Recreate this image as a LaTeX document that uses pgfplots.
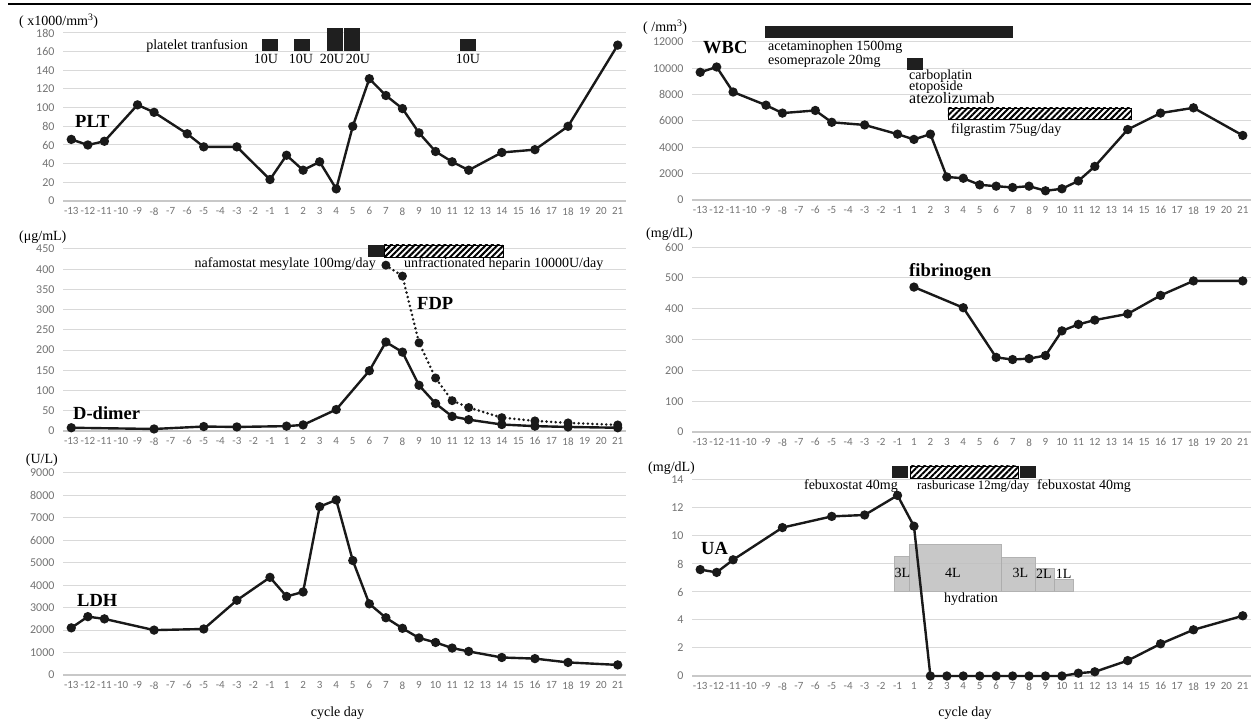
\documentclass[border=0pt]{standalone}
\usepackage{fontspec}
\setmainfont{Liberation Serif}
\newfontfamily\tickfont{Carlito}
\usepackage{pgfplots}
\pgfplotsset{compat=1.18}
\usetikzlibrary{patterns.meta}

\definecolor{gridc}{RGB}{217,217,217}
\definecolor{axc}{RGB}{200,200,200}
\definecolor{tickc}{RGB}{115,115,115}
\definecolor{hyd}{RGB}{190,190,190}
\definecolor{serc}{RGB}{25,25,25}

\newcommand\ann{\fontsize{14}{14}\selectfont}
\newcommand\lbl{\fontsize{18.5}{18.5}\selectfont\bfseries}

\tikzset{
 hatch/.style={draw=black, line width=0.8pt, pattern={Lines[angle=45,distance=4.2pt,line width=2pt]}, pattern color=black},
 blk/.style={fill=black!88},
 hydb/.style={fill=hyd, draw=black!30, line width=0.6pt},
}
\pgfplotsset{
 panel/.style={
   scale only axis,
   xmin=-0.5, xmax=33.5,
   xtick={0,...,33},
   xticklabels={-13,-12,-11,-10,-9,-8,-7,-6,-5,-4,-3,-2,-1,1,2,3,4,5,6,7,8,9,10,11,12,13,14,15,16,17,18,19,20,21},
   ymin=0,
   ymajorgrids,
   major grid style={gridc, line width=1pt},
   axis x line*=bottom,
   axis y line*=left,
   y axis line style={draw=none},
   x axis line style={axc, line width=1.8pt},
   major tick length=0pt,
   xticklabel style={font=\tickfont\fontsize{11}{12}\selectfont, text=tickc, yshift=-3pt},
   yticklabel style={font=\tickfont\fontsize{12}{12}\selectfont, text=tickc, xshift=-5pt},
   /pgf/number format/assume math mode=true,
   /pgf/number format/1000 sep={},
   scaled y ticks=false,
   clip=false,
 },
 ser/.style={color=serc, line width=2.4pt, mark=*, mark size=3.4pt, mark options={solid}},
}

\begin{document}
\begin{tikzpicture}[x=1pt,y=1pt]
\useasboundingbox (0,0) rectangle (1251,725);
\draw[line width=2pt] (8,721) -- (1251,721);

% ---------------- PLT ----------------
\begin{axis}[panel, at={(63pt,524pt)}, anchor=south west, width=563pt, height=168pt,
  ymax=180, ytick={0,20,...,180}]
\addplot[ser] coordinates {(0,66) (1,60) (2,64) (4,103) (5,95) (7,72) (8,58) (10,58) (12,23) (13,49) (14,33) (15,42) (16,13) (17,80) (18,131) (19,113) (20,99) (21,73) (22,53) (23,42) (24,33) (26,52) (28,55) (30,80) (33,167)};
\fill[blk] (axis cs:11.52,160.7) rectangle (axis cs:12.47,173.6);
\fill[blk] (axis cs:13.45,160.7) rectangle (axis cs:14.40,173.6);
\fill[blk] (axis cs:15.44,160.7) rectangle (axis cs:16.41,185.4);
\fill[blk] (axis cs:16.47,160.7) rectangle (axis cs:17.44,185.4);
\fill[blk] (axis cs:23.49,160.7) rectangle (axis cs:24.44,173.6);
\end{axis}

% ---------------- WBC ----------------
\begin{axis}[panel, at={(692pt,525pt)}, anchor=south west, width=559pt, height=158pt,
  ymax=12000, ytick={0,2000,...,12000}]
\addplot[ser] coordinates {(0,9700) (1,10100) (2,8200) (4,7200) (5,6600) (7,6800) (8,5900) (10,5700) (12,5000) (13,4600) (14,5000) (15,1750) (16,1650) (17,1150) (18,1050) (19,950) (20,1050) (21,700) (22,850) (23,1450) (24,2550) (26,5350) (28,6600) (30,7000) (33,4900)};
\fill[blk] (axis cs:3.94,12304) rectangle (axis cs:19.02,13215);
\fill[blk] (axis cs:12.58,9873) rectangle (axis cs:13.55,10785);
\draw[hatch] (axis cs:15.07,6152) rectangle (axis cs:26.2,6987);
\end{axis}

% ---------------- D-dimer / FDP ----------------
\begin{axis}[panel, at={(63pt,294pt)}, anchor=south west, width=563pt, height=182pt,
  ymax=450, ytick={0,50,...,450}]
\addplot[ser] coordinates {(0,8) (5,5) (8,11) (10,10) (13,12) (14,15) (16,53) (18,149) (19,220) (20,195) (21,113) (22,68) (23,36) (24,28) (26,16) (28,12) (30,10) (33,8)};
\addplot[ser, line width=2.8pt, line cap=round, dash pattern=on 0pt off 4.6pt, mark size=3pt] coordinates {(19,410) (20,383) (21,218) (22,131) (23,75) (24,58) (26,33) (28,25) (30,20) (33,15)};
\fill[blk] (axis cs:17.92,430.2) rectangle (axis cs:18.89,459.9);
\draw[hatch] (axis cs:18.89,430.2) rectangle (axis cs:26.07,459.9);
\end{axis}

% ---------------- fibrinogen ----------------
\begin{axis}[panel, at={(692pt,293pt)}, anchor=south west, width=559pt, height=185pt,
  ymax=600, ytick={0,100,...,600}]
\addplot[ser] coordinates {(13,470) (16,403) (18,242) (19,235) (20,238) (21,248) (22,328) (23,349) (24,363) (26,383) (28,443) (30,490) (33,490)};
\end{axis}

% ---------------- LDH ----------------
\begin{axis}[panel, at={(63pt,50pt)}, anchor=south west, width=563pt, height=202pt,
  ymax=9000, ytick={0,1000,...,9000}]
\addplot[ser] coordinates {(0,2100) (1,2600) (2,2500) (5,2000) (8,2050) (10,3330) (12,4350) (13,3500) (14,3700) (15,7500) (16,7800) (17,5100) (18,3170) (19,2550) (20,2080) (21,1650) (22,1450) (23,1200) (24,1050) (26,780) (28,730) (30,560) (33,450)};
\end{axis}

% ---------------- UA ----------------
\begin{axis}[panel, at={(692pt,49pt)}, anchor=south west, width=559pt, height=196pt,
  ymax=14, ytick={0,2,...,14}]
\fill[hydb, fill opacity=0.85] (axis cs:11.79,6.07) rectangle (axis cs:12.70,8.57);
\fill[hydb, fill opacity=0.85] (axis cs:12.70,6.07) rectangle (axis cs:18.29,9.43);
\fill[hydb, fill opacity=0.85] (axis cs:18.29,6.07) rectangle (axis cs:20.36,8.50);
\fill[hydb, fill opacity=0.85] (axis cs:20.36,6.07) rectangle (axis cs:21.52,7.69);
\fill[hydb, fill opacity=0.85] (axis cs:21.52,6.07) rectangle (axis cs:22.67,6.93);
\draw[black!32, line width=0.6pt] (axis cs:12.70,6.07) -- (axis cs:12.70,8.57);
\draw[black!32, line width=0.6pt] (axis cs:18.29,6.07) -- (axis cs:18.29,8.50);
\draw[black!32, line width=0.6pt] (axis cs:20.36,6.07) -- (axis cs:20.36,7.69);
\draw[black!32, line width=0.6pt] (axis cs:21.52,6.07) -- (axis cs:21.52,6.93);
\addplot[ser] coordinates {(0,7.6) (1,7.4) (2,8.3) (5,10.6) (8,11.4) (10,11.5) (12,12.9) (13,10.7) (14,0) (15,0) (16,0) (17,0) (18,0) (19,0) (20,0) (21,0) (22,0) (23,0.2) (24,0.3) (26,1.1) (28,2.3) (30,3.3) (33,4.3)};
\fill[blk] (axis cs:11.66,14.14) rectangle (axis cs:12.64,15.0);
\draw[hatch] (axis cs:12.76,14.14) rectangle (axis cs:19.33,15.0);
\fill[blk] (axis cs:19.45,14.14) rectangle (axis cs:20.42,15.0);
\end{axis}

% ---------------- texts ----------------
% PLT
\node[anchor=base west, inner sep=0] at (19,699.5) {\ann ( x1000/mm\textsuperscript{3})};
\node[anchor=base east, inner sep=0] at (248,675.7) {\ann platelet tranfusion};
\node[anchor=base, inner sep=0] at (266,661) {\ann 10U};
\node[anchor=base, inner sep=0] at (301,661) {\ann 10U};
\node[anchor=base, inner sep=0] at (332,661) {\ann 20U};
\node[anchor=base, inner sep=0] at (358,661) {\ann 20U};
\node[anchor=base, inner sep=0] at (468,661) {\ann 10U};
\node[anchor=base west, inner sep=0] at (75,597.3) {\lbl PLT};
% WBC
\node[anchor=base west, inner sep=0] at (643,693) {\ann ( /mm\textsuperscript{3})};
\node[anchor=base west, inner sep=0] at (703,671) {\lbl WBC};
\node[anchor=base west, inner sep=0] at (768,674.3) {\ann acetaminophen 1500mg};
\node[anchor=base west, inner sep=0] at (768,660.7) {\ann esomeprazole 20mg};
\node[anchor=base west, inner sep=0] at (909,645.5) {\ann carboplatin};
\node[anchor=base west, inner sep=0] at (909,634) {\ann etoposide};
\node[anchor=base west, inner sep=0] at (909,621) {\fontsize{16}{16}\selectfont atezolizumab};
\node[anchor=base west, inner sep=0] at (951,591.7) {\ann filgrastim 75ug/day};
% D-dimer / FDP
\node[anchor=base west, inner sep=0] at (19,484.3) {\ann (μg/mL)};
\node[anchor=base east, inner sep=0] at (376,457.3) {\ann nafamostat mesylate 100mg/day};
\node[anchor=base west, inner sep=0] at (404,457.3) {\ann unfractionated heparin 10000U/day};
\node[anchor=base west, inner sep=0] at (417,415) {\lbl FDP};
\node[anchor=base west, inner sep=0] at (73,305) {\lbl D-dimer};
% fibrinogen
\node[anchor=base west, inner sep=0] at (646,487.3) {\ann (mg/dL)};
\node[anchor=base west, inner sep=0] at (909,448.3) {\lbl fibrinogen};
% LDH
\node[anchor=base west, inner sep=0] at (25.7,261.7) {\ann (U/L)};
\node[anchor=base west, inner sep=0] at (77,118.3) {\lbl LDH};
\node[anchor=base, inner sep=0] at (337.5,8.3) {\ann cycle day};
% UA
\node[anchor=base west, inner sep=0] at (648,253.3) {\ann (mg/dL)};
\node[anchor=base east, inner sep=0] at (898,235.7) {\ann febuxostat 40mg};
\node[anchor=base west, inner sep=0] at (917,235.7) {\fontsize{12.8}{13}\selectfont rasburicase 12mg/day};
\node[anchor=base west, inner sep=0] at (1037,235.7) {\ann febuxostat 40mg};
\node[anchor=base west, inner sep=0] at (701,170) {\lbl UA};
\node[anchor=base west, inner sep=0] at (894.3,147.7) {\ann 3L};
\node[anchor=base west, inner sep=0] at (945,147.7) {\ann 4L};
\node[anchor=base west, inner sep=0] at (1012.3,147.7) {\ann 3L};
\node[anchor=base west, inner sep=0] at (1036,146.7) {\ann 2L};
\node[anchor=base west, inner sep=0] at (1055.7,146.7) {\ann 1L};
\node[anchor=base west, inner sep=0] at (944,122.3) {\ann hydration};
\node[anchor=base, inner sep=0] at (965,8.3) {\ann cycle day};
\end{tikzpicture}
\end{document}
